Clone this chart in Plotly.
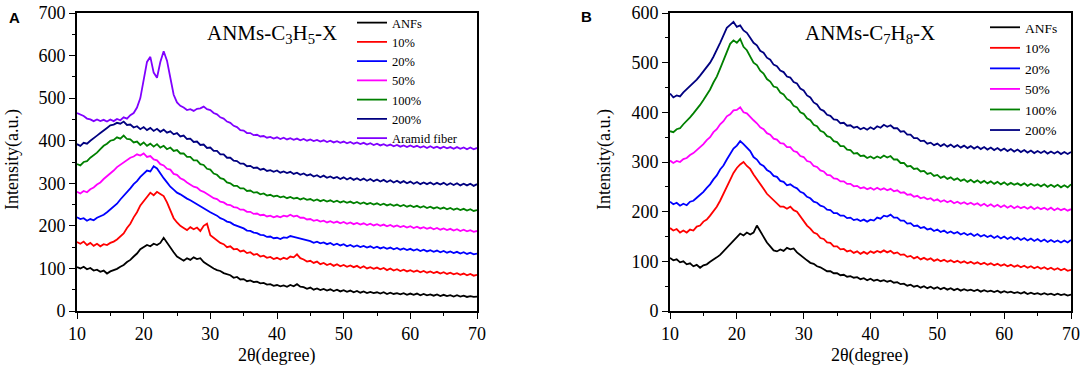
import numpy as np
import plotly.graph_objects as go

# ---------------- data (2theta from 10 to 70 deg, step 0.5) ----------------
X_START, X_END = 10, 70

A_ANFs = [103,100,104,98,101,95,97,92,95,88,93,96,99,104,108,115,120,128,135,145,150,155,152,158,155,160,172,160,148,138,128,122,118,124,120,126,122,124,115,110,104,100,96,94,89,86,84,78,80,74,75,70,72,68,69,65,66,62,63,59,61,58,60,57,61,58,63,57,56,52,55,50,53,49,52,48,51,47,50,46,49,45,48,44,47,43,46,42,45,42,44,41,44,40,43,40,42,39,42,38,41,38,41,37,40,37,39,36,39,35,38,35,37,34,37,34,36,33,35,33,34]
A_10 = [162,158,163,155,160,153,158,152,157,155,160,163,168,175,182,195,205,220,232,248,258,270,278,272,280,275,270,255,235,218,208,200,195,190,197,192,196,188,200,205,178,172,165,160,157,150,152,145,146,140,142,136,138,132,134,128,130,125,127,122,125,121,125,122,128,126,133,124,121,116,118,113,116,110,113,108,111,106,110,105,108,104,107,103,106,101,105,100,103,99,102,98,101,96,100,95,98,94,97,93,96,92,95,91,94,90,93,89,92,88,91,87,90,86,89,85,88,84,87,83,85]
A_20 = [220,216,218,212,216,213,219,222,226,232,238,246,252,262,270,280,288,298,305,315,322,330,328,340,335,322,312,302,292,285,278,274,268,264,260,255,250,245,242,236,232,228,224,218,215,210,208,203,200,196,194,189,188,184,183,179,178,174,175,171,172,169,173,172,176,174,172,170,167,165,164,160,163,159,161,157,160,155,158,154,157,152,155,151,154,150,153,149,152,148,151,147,150,146,149,145,148,144,147,143,146,142,145,141,144,140,143,139,142,138,141,137,140,136,139,135,138,134,137,133,135]
A_50 = [280,276,282,279,286,290,297,302,310,316,324,330,338,344,350,355,360,363,368,365,370,362,364,356,354,345,342,334,332,322,320,312,308,302,298,292,290,283,280,274,270,265,263,257,255,250,249,244,243,238,238,233,233,228,229,225,226,222,224,220,223,220,224,222,226,222,224,219,219,215,216,212,214,210,212,208,211,207,210,206,209,205,208,204,207,203,206,202,205,201,204,200,203,199,202,198,201,197,200,196,199,195,198,194,197,193,196,192,195,191,194,190,193,189,192,188,191,187,190,186,188]
A_100 = [345,342,350,352,360,365,372,380,388,393,400,402,408,405,412,404,403,396,398,390,396,388,393,386,392,384,388,380,384,376,378,370,370,362,362,354,354,345,343,334,332,323,320,312,310,302,300,294,294,288,288,282,283,278,279,274,276,271,273,269,271,267,269,265,268,264,266,262,265,261,263,259,262,258,261,257,260,256,259,255,258,254,257,253,256,252,255,251,254,250,253,249,252,248,251,247,250,246,249,245,248,244,247,243,246,242,245,241,244,240,243,239,242,238,241,237,240,236,239,235,237]
A_200 = [392,388,395,393,400,405,412,418,425,430,436,438,442,440,445,437,438,431,434,427,432,425,430,423,428,421,426,419,422,415,418,410,412,404,405,397,398,390,391,383,384,376,376,368,368,360,360,353,352,346,346,340,341,336,337,332,334,329,331,327,330,325,328,324,327,322,325,320,323,318,321,316,319,314,318,313,316,312,315,310,314,309,313,308,312,307,311,306,310,305,309,304,308,303,307,302,306,301,305,300,304,299,303,298,302,298,302,297,301,297,301,296,300,296,300,295,299,295,299,294,298]
A_Aramid = [465,462,458,452,450,446,450,446,449,445,450,446,451,448,455,452,460,465,478,500,540,585,597,560,548,585,610,588,548,508,490,482,478,472,474,470,475,476,480,474,472,465,462,455,452,445,442,435,432,425,424,418,418,413,414,410,411,407,409,405,408,404,407,403,406,402,405,401,404,400,403,399,402,398,401,397,400,396,399,395,398,394,397,393,396,392,395,391,394,390,393,389,392,388,391,387,390,386,389,385,389,385,388,384,387,383,387,383,386,382,386,382,385,381,385,381,384,380,384,380,383]

B_ANFs = [107,102,104,98,100,94,96,90,93,87,92,94,99,103,108,113,120,127,134,142,150,156,152,158,154,158,172,160,148,138,130,122,120,124,121,127,124,126,118,112,106,102,97,95,90,88,84,80,80,76,76,72,73,69,70,67,68,64,66,62,65,61,63,60,62,59,61,57,58,54,55,51,53,49,51,47,50,46,49,45,48,44,47,43,46,42,45,41,44,41,43,40,43,39,42,39,41,38,41,37,40,37,39,36,38,35,38,34,37,34,36,33,36,33,35,32,35,32,34,31,33]
B_10 = [167,162,165,158,162,158,164,162,170,172,180,184,192,200,210,222,235,250,264,278,288,295,300,292,286,275,266,255,246,236,230,222,217,210,210,206,210,203,200,190,182,172,166,158,155,147,145,138,137,130,130,124,125,120,122,117,120,115,119,115,120,117,121,118,122,118,121,116,118,113,114,109,111,106,109,104,107,103,106,101,104,100,103,99,102,98,101,97,100,96,99,95,98,94,97,93,96,92,95,91,94,90,93,89,92,88,91,87,90,86,89,85,88,84,87,83,86,82,85,81,83]
B_20 = [220,215,218,212,216,213,220,222,228,234,240,248,255,265,273,285,293,305,315,327,333,342,336,330,322,310,305,296,292,284,280,272,270,262,260,253,255,250,247,240,237,230,227,220,218,212,210,204,203,197,197,192,192,187,188,183,185,181,184,180,184,182,188,186,192,190,194,188,188,182,182,176,177,171,172,167,169,164,166,161,164,159,162,157,160,156,159,154,157,153,156,151,155,150,153,149,152,147,151,146,150,145,149,144,148,143,147,142,146,141,145,140,144,139,143,139,142,138,142,138,143]
B_50 = [303,298,302,300,306,308,314,318,324,330,336,344,350,360,366,376,382,392,396,404,405,410,400,398,390,384,378,370,366,358,355,347,345,338,337,330,330,322,320,312,310,302,300,292,290,283,281,274,273,267,266,261,261,256,256,251,252,247,249,245,248,244,248,244,247,243,246,241,243,238,239,234,235,230,232,227,229,225,227,222,225,220,223,219,222,217,220,216,219,215,218,214,217,212,216,211,215,210,214,209,213,208,212,207,211,207,210,206,210,205,209,205,208,204,208,203,207,203,206,202,205]
B_100 = [362,360,366,368,376,382,390,398,406,415,425,436,446,460,472,488,505,522,538,545,540,548,532,525,512,500,495,484,478,467,462,452,450,440,436,427,423,413,410,400,397,388,384,375,372,363,360,352,350,342,340,332,332,325,324,317,318,312,313,308,311,307,311,308,313,309,312,305,305,298,298,291,292,286,287,281,282,276,278,272,274,268,271,266,269,264,267,262,265,260,264,259,263,258,262,257,261,256,260,255,259,254,258,254,257,253,257,252,256,252,255,251,255,250,254,250,254,249,253,249,255]
B_200 = [438,430,434,432,440,446,452,460,466,474,482,492,500,512,525,540,555,570,576,582,572,575,565,560,550,540,535,524,520,510,506,496,493,484,481,472,470,461,458,448,444,434,430,420,416,406,403,395,393,386,385,378,379,373,374,369,371,366,369,365,370,366,372,369,375,371,374,368,368,361,362,355,355,348,348,342,343,337,339,334,337,332,336,331,335,330,334,329,333,328,332,327,331,326,330,325,329,324,328,323,327,322,326,321,325,320,324,319,323,318,322,318,322,317,321,317,321,316,320,316,320]

SERIES_NAMES_A = ["ANFs", "10%", "20%", "50%", "100%", "200%", "Aramid fiber"]
SERIES_A = [A_ANFs, A_10, A_20, A_50, A_100, A_200, A_Aramid]
SERIES_NAMES_B = ["ANFs", "10%", "20%", "50%", "100%", "200%"]
SERIES_B = [B_ANFs, B_10, B_20, B_50, B_100, B_200]
COLORS = ["#000000", "#FF0000", "#0000FF", "#FF00FF", "#008000", "#000080", "#8000FF"]

X_TICKS = [10, 20, 30, 40, 50, 60, 70]
Y_TICKS_A = [0, 100, 200, 300, 400, 500, 600, 700]
Y_TICKS_B = [0, 100, 200, 300, 400, 500, 600]

SERIF = "Times New Roman, Liberation Serif, serif"
SANS = "Liberation Sans, Arial, sans-serif"

fig = go.Figure()
for name, ys, col in zip(SERIES_NAMES_A, SERIES_A, COLORS):
    xs = np.linspace(X_START, X_END, len(ys))
    fig.add_trace(go.Scatter(x=xs, y=ys, mode="lines", name=name,
                             line=dict(color=col, width=1.8),
                             xaxis="x", yaxis="y", legend="legend"))
for name, ys, col in zip(SERIES_NAMES_B, SERIES_B, COLORS):
    xs = np.linspace(X_START, X_END, len(ys))
    fig.add_trace(go.Scatter(x=xs, y=ys, mode="lines", name=name,
                             line=dict(color=col, width=1.8),
                             xaxis="x2", yaxis="y2", legend="legend2"))

W, H = 1084, 373
def px(xp): return xp / W
def py(yp): return (H - yp) / H

def axis_style(minor_dtick):
    return dict(showline=True, linecolor="black", linewidth=1.6, mirror=True,
                ticks="outside", ticklen=6, tickwidth=1.4, tickcolor="black",
                showgrid=False, zeroline=False, automargin=False,
                ticklabeloverflow="allow",
                tickfont=dict(family=SERIF, size=18, color="black"),
                minor=dict(ticks="outside", ticklen=3, tickwidth=1.2, tickcolor="black",
                           dtick=minor_dtick, showgrid=False))

fig.update_layout(
    template="none",
    width=W, height=H,
    margin=dict(l=0, r=0, t=0, b=0, pad=0, autoexpand=False),
    paper_bgcolor="white", plot_bgcolor="white",
    xaxis=dict(domain=[px(77), px(477)], range=[10, 70], tickvals=X_TICKS,
               anchor="y", **axis_style(5)),
    yaxis=dict(domain=[py(311), py(13)], range=[0, 700], tickvals=Y_TICKS_A,
               anchor="x", **axis_style(50)),
    xaxis2=dict(domain=[px(670), px(1071)], range=[10, 70], tickvals=X_TICKS,
                anchor="y2", **axis_style(5)),
    yaxis2=dict(domain=[py(311), py(13)], range=[0, 600], tickvals=Y_TICKS_B,
                anchor="x2", **axis_style(50)),
    legend=dict(x=px(352), y=py(8), xanchor="left", yanchor="top",
                bgcolor="rgba(0,0,0,0)", borderwidth=0,
                font=dict(family=SERIF, size=12.5, color="black"),
                tracegroupgap=0, itemwidth=30),
    legend2=dict(x=px(985), y=py(12), xanchor="left", yanchor="top",
                 bgcolor="rgba(0,0,0,0)", borderwidth=0,
                 font=dict(family=SERIF, size=13.5, color="black"),
                 tracegroupgap=0, itemwidth=30),
    showlegend=True,
)

def note(text, x, y, size, family=SERIF, angle=0):
    return dict(text=text, x=px(x), y=py(y), xref="paper", yref="paper",
                xanchor="center", yanchor="middle", showarrow=False, textangle=angle,
                font=dict(family=family, size=size, color="black"))

ann = [
    note("ANMs-C<sub>3</sub>H<sub>5</sub>-X", 272, 34, 21),
    note("ANMs-C<sub>7</sub>H<sub>8</sub>-X", 870, 34, 21),
    note("<b>A</b>", 14, 17, 15, SANS),
    note("<b>B</b>", 586, 16, 15, SANS),
    note("2θ(degree)", 277, 355, 18),
    note("2θ(degree)", 870, 355, 18),
    note("Intensity(a.u.)", 13, 160, 18, angle=-90),
    note("Intensity(a.u.)", 605, 160, 18, angle=-90),
]
fig.update_layout(annotations=ann)

# remove the default 8px body margin so the figure sits at the page origin
fig.write_html("out.html",
               config={"displayModeBar": False},
               post_script="document.body.style.margin='0px';document.body.style.overflow='hidden';")
